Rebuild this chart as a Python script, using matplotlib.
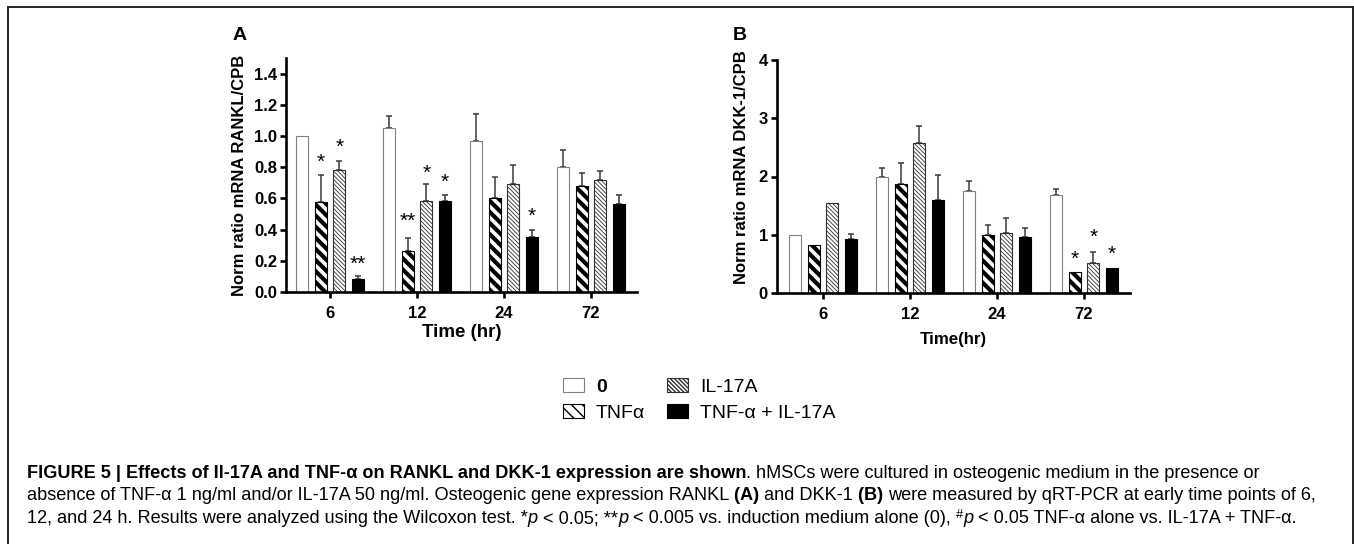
"""Figure 5: RANKL (A) and DKK-1 (B) expression in hMSCs with TNF-alpha / IL-17A."""

import matplotlib
import numpy as np

matplotlib.use("Agg")
import matplotlib.pyplot as plt
from matplotlib.lines import Line2D
from matplotlib.patches import Patch

plt.rcParams["font.family"] = ["Liberation Sans", "DejaVu Sans"]

TIMES = ["6", "12", "24", "72"]
SERIES = ["0", "TNF\u03b1", "IL-17A", "TNF-\u03b1 + IL-17A"]

# rows: 0, TNF, IL-17A, TNF+IL-17A ; columns: 6, 12, 24, 72 h
RANKL_MEAN = [
    [1.00, 1.05, 0.97, 0.80],
    [0.575, 0.265, 0.60, 0.68],
    [0.78, 0.585, 0.69, 0.72],
    [0.085, 0.585, 0.355, 0.565],
]
RANKL_SEM = [
    [0.0, 0.08, 0.17, 0.11],
    [0.175, 0.08, 0.14, 0.085],
    [0.06, 0.105, 0.125, 0.055],
    [0.015, 0.04, 0.045, 0.055],
]
DKK1_MEAN = [
    [1.00, 2.00, 1.75, 1.68],
    [0.82, 1.87, 1.00, 0.355],
    [1.54, 2.58, 1.03, 0.52],
    [0.93, 1.59, 0.96, 0.435],
]
DKK1_SEM = [
    [0.0, 0.15, 0.18, 0.11],
    [0.0, 0.37, 0.17, 0.0],
    [0.0, 0.28, 0.26, 0.18],
    [0.08, 0.44, 0.15, 0.0],
]
# (time index, series index, marker, y)
RANKL_STARS = [
    (0, 1, "*", 0.83), (0, 2, "*", 0.93), (0, 3, "**", 0.18),
    (1, 1, "**", 0.45), (1, 2, "*", 0.76), (1, 3, "*", 0.70),
    (2, 3, "*", 0.485),
]
DKK1_STARS = [(3, 1, "*", 0.57), (3, 2, "*", 0.96), (3, 3, "*", 0.67)]

OFFSETS = [-0.32, -0.107, 0.107, 0.32]
STYLES = [
    dict(fc="white", ec="#808080", hatch=None, hlw=1.0),
    dict(fc="white", ec="black", hatch="\\\\\\", hlw=3.0),
    dict(fc="white", ec="#303030", hatch="\\" * 8, hlw=0.6),
    dict(fc="black", ec="black", hatch=None, hlw=1.0),
]

W, H = 1354, 544


def px_rect(left, top, right, bottom):
    return [left / W, 1 - bottom / H, (right - left) / W, (bottom - top) / H]


def draw_panel(ax, means, sems, stars, ylim, xlim, yticks, fmt):
    x = np.arange(len(TIMES))
    for i, st in enumerate(STYLES):
        pos = x + OFFSETS[i]
        m = np.array(means[i])
        s = np.array(sems[i])
        with plt.rc_context({"hatch.linewidth": st["hlw"]}):
            ax.bar(pos, m, width=0.14, color=st["fc"], edgecolor=st["ec"],
                   hatch=st["hatch"], linewidth=0.8, zorder=2)
        keep = s > 0
        ax.errorbar(pos[keep], m[keep], yerr=[np.zeros(keep.sum()), s[keep]],
                    fmt="none", ecolor="#3a3a3a", elinewidth=1.1, capsize=2.5,
                    capthick=1.1, zorder=1)
    for g, si, lab, y in stars:
        ax.text(g + OFFSETS[si], y, lab, ha="center", va="center", fontsize=15)
    ax.set_xlim(*xlim)
    ax.set_ylim(*ylim)
    ax.set_xticks(x)
    ax.set_xticklabels(TIMES, fontsize=12, fontweight="bold")
    ax.set_yticks(yticks)
    ax.set_yticklabels([fmt.format(v) for v in yticks], fontsize=12, fontweight="bold")
    for side in ("top", "right"):
        ax.spines[side].set_visible(False)
    for side in ("left", "bottom"):
        ax.spines[side].set_linewidth(1.9)
    ax.tick_params(width=1.9, length=4.5, pad=2)
    ax.tick_params(axis="x", pad=5.5)


def put_runs(fig, x_px, base_px, runs):
    r = fig.canvas.get_renderer()
    x = x_px
    for text, weight, style, size, rise in runs:
        kw = dict(fontsize=size, fontweight=weight, fontstyle=style)
        t1 = fig.text(0, 0, text + "x", **kw)
        t2 = fig.text(0, 0, "x", **kw)
        adv = t1.get_window_extent(r).width - t2.get_window_extent(r).width
        t1.remove()
        t2.remove()
        fig.text(x / W, 1 - (base_px - rise) / H, text, va="baseline", **kw)
        x += adv


fig = plt.figure(figsize=(W / 100, H / 100), dpi=100)

ax_a = fig.add_axes(px_rect(286, 58, 637, 292))
draw_panel(ax_a, RANKL_MEAN, RANKL_SEM, RANKL_STARS, (0, 1.5), (-0.506, 3.53),
           np.arange(0, 1.41, 0.2), "{:.1f}")
ax_a.set_xlabel("Time (hr)", fontsize=13.5, fontweight="bold", labelpad=2)
ax_a.set_ylabel("Norm ratio mRNA RANKL/CPB", fontsize=12, fontweight="bold")
ax_a.yaxis.set_label_coords(-0.111, 0.5)

ax_b = fig.add_axes(px_rect(777, 60, 1130, 293))
draw_panel(ax_b, DKK1_MEAN, DKK1_SEM, DKK1_STARS, (0, 4), (-0.53, 3.53),
           [0, 1, 2, 3, 4], "{:d}")
ax_b.set_xlabel("Time(hr)", fontsize=12.2, fontweight="bold", labelpad=7.5)
ax_b.set_ylabel("Norm ratio mRNA DKK-1/CPB", fontsize=12, fontweight="bold")
ax_b.yaxis.set_label_coords(-0.079, 0.54)

fig.text(240 / W, 1 - 36 / H, "A", fontsize=14, fontweight="bold", ha="center", va="center")
fig.text(740 / W, 1 - 36 / H, "B", fontsize=14, fontweight="bold", ha="center", va="center")

handles = []
for st in STYLES:
    with plt.rc_context({"hatch.linewidth": st["hlw"]}):
        handles.append(Patch(facecolor=st["fc"], edgecolor=st["ec"], hatch=st["hatch"],
                             linewidth=0.8))
leg = fig.legend(handles, SERIES, ncol=2, loc="upper left",
                 bbox_to_anchor=(563 / W, 1 - 378 / H), frameon=False, fontsize=14,
                 handlelength=1.1, handleheight=0.7, handletextpad=0.6,
                 columnspacing=1.1, labelspacing=0.45, borderpad=0, borderaxespad=0)
leg.get_texts()[0].set_fontweight("bold")

# figure frame (open at the bottom)
for xs, ys in (([8, 8], [H, 7]), ([8, 1353], [7, 7]), ([1353, 1353], [7, H])):
    fig.add_artist(Line2D([v / W for v in xs], [1 - v / H for v in ys],
                          color="#222222", linewidth=1.4))

n, b, it = "normal", "bold", "italic"
CS = 13.1
put_runs(fig, 27, 478, [
    ("FIGURE 5 | Effects of Il-17A and TNF-\u03b1 on RANKL and DKK-1 expression are shown", b, n, CS, 0),
    (". hMSCs were cultured in osteogenic medium in the presence or", n, n, CS, 0),
])
put_runs(fig, 27, 500.5, [
    ("absence of TNF-\u03b1 1 ng/ml and/or IL-17A 50 ng/ml. Osteogenic gene expression RANKL ", n, n, CS, 0),
    ("(A) ", b, n, CS, 0),
    ("and DKK-1 ", n, n, CS, 0),
    ("(B) ", b, n, CS, 0),
    ("were measured by qRT-PCR at early time points of 6,", n, n, CS, 0),
])
put_runs(fig, 27, 523, [
    ("12, and 24 h. Results were analyzed using the Wilcoxon test. *", n, n, CS, 0),
    ("p ", n, it, CS, 0),
    ("< 0.05; **", n, n, CS, 0),
    ("p ", n, it, CS, 0),
    ("< 0.005 vs. induction medium alone (0), ", n, n, CS, 0),
    ("#", n, n, CS * 0.7, 5),
    ("p ", n, it, CS, 0),
    ("< 0.05 TNF-\u03b1 alone vs. IL-17A + TNF-\u03b1.", n, n, CS, 0),
])

fig.savefig("out.png", dpi=100)
plt.close(fig)
